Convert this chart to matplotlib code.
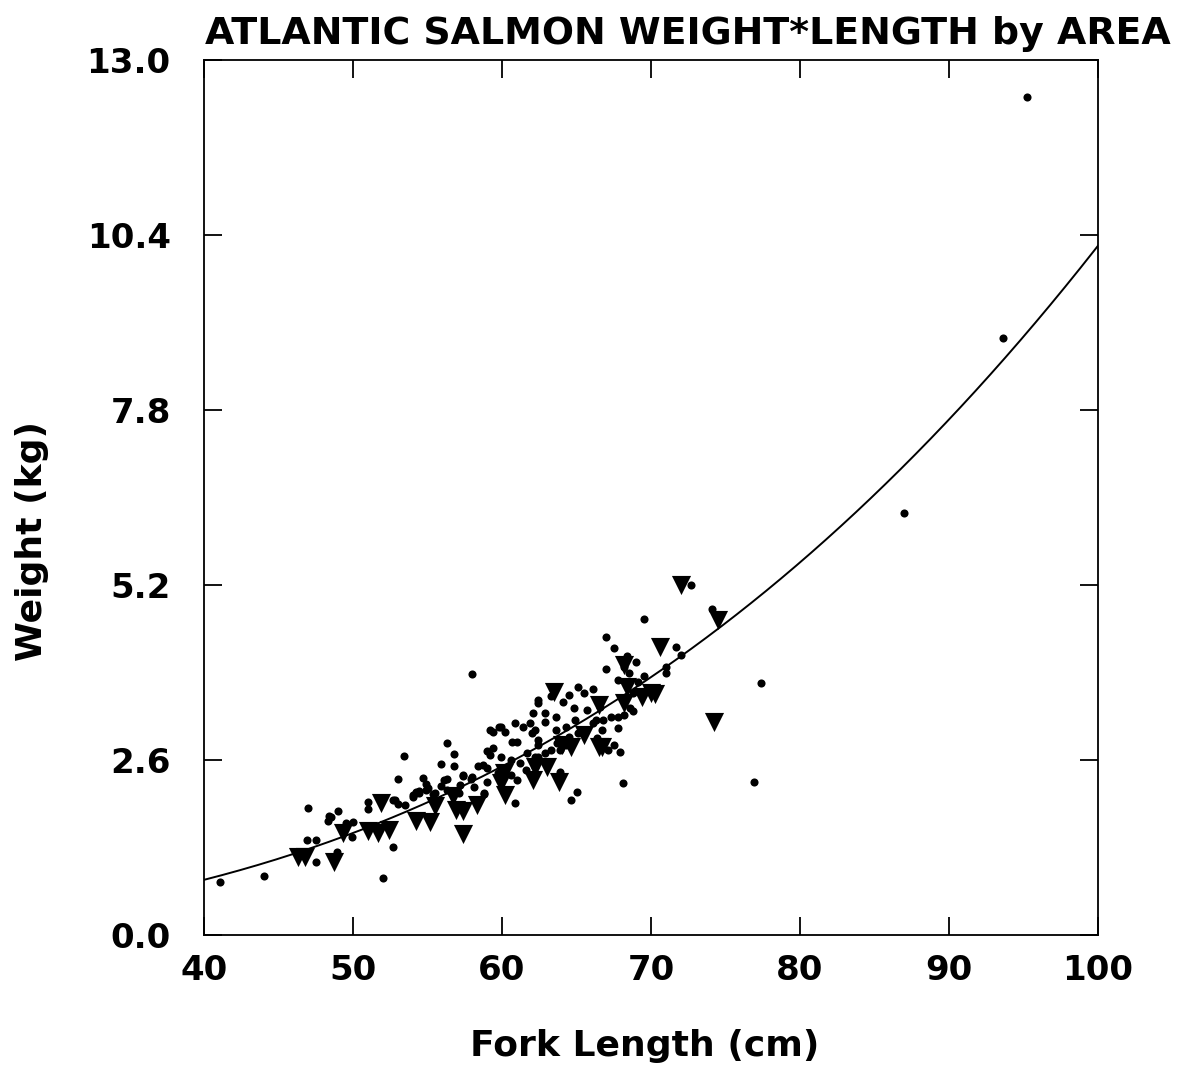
import matplotlib
matplotlib.use("Agg")
import matplotlib.pyplot as plt
import numpy as np

# ---- data ----
dot_len = [41.1, 44.0, 52.0, 46.9, 47.5, 47.5, 48.9, 48.3, 48.5, 49.0, 47.0, 51.0, 51.0, 49.5, 50.0,
           49.4, 49.9, 52.7, 53.0, 53.4, 52.7, 53.0, 54.7, 54.9, 55.0, 54.4, 54.0, 55.4, 55.9, 56.3,
           56.8, 56.8, 56.3, 55.9, 57.4, 57.9, 58.4, 58.8, 59.0, 59.4, 59.8, 58.0,
           48.4, 49.3, 52.8, 53.5, 51.7, 52.5, 54.2, 54.4,
           54.2, 54.0, 54.9, 55.5, 56.1, 56.3, 57.2, 57.4, 58.0, 58.1, 57.1, 58.7, 59.0, 58.8, 59.2,
           59.9, 60.7, 61.0, 60.9, 61.4, 61.9, 62.0, 60.2, 59.4, 59.2, 59.9, 60.6, 61.2, 61.7, 62.2,
           59.0, 59.7, 60.6, 61.0, 61.6, 62.2, 60.9, 62.4, 62.4, 62.1,
           67.0, 67.5, 68.4, 69.0, 67.0, 69.5, 69.5, 74.1, 71.7, 72.0, 71.0, 71.0, 72.7, 77.4, 76.9,
           68.1, 65.1, 66.1, 65.5, 64.5, 64.1, 63.3, 62.4, 62.9, 63.6, 64.8, 65.7, 66.6, 67.8, 68.6,
           67.8, 66.3, 67.3, 64.9, 64.3, 62.9, 62.2, 63.6, 64.1, 65.1, 66.4, 67.1, 67.5, 67.9, 62.4,
           62.9, 62.4, 63.3, 63.9, 64.3, 63.7, 64.5, 63.9, 64.6, 65.0, 68.8, 68.8, 69.1, 68.2, 68.5,
           67.8, 66.8, 66.7, 68.2, 66.1,
           87.0, 93.6, 95.2]
dot_wt = [0.78, 0.87, 0.84, 1.41, 1.41, 1.08, 1.23, 1.69, 1.75, 1.84, 1.89, 1.98, 1.87, 1.66, 1.68,
          1.56, 1.46, 1.31, 2.32, 2.66, 2.01, 1.95, 2.33, 2.24, 2.18, 2.11, 2.08, 2.10, 2.54, 2.85,
          2.69, 2.51, 2.32, 2.21, 2.36, 2.32, 2.51, 2.10, 2.73, 3.02, 3.09, 3.88,
          1.77, 1.59, 2.01, 1.93, 1.60, 1.63, 2.11, 2.14,
          2.12, 2.05, 2.15, 2.11, 2.30, 2.15, 2.23, 2.38, 2.35, 2.20, 2.11, 2.53, 2.27, 2.11, 3.05,
          3.09, 2.87, 2.87, 3.15, 3.09, 3.15, 3.00, 3.02, 2.78, 2.67, 2.64, 2.60, 2.56, 2.70, 2.64,
          2.48, 2.41, 2.38, 2.30, 2.45, 2.50, 1.96, 2.82, 3.45, 3.30,
          4.43, 4.26, 4.15, 4.06, 3.95, 3.85, 4.70, 4.84, 4.28, 4.16, 3.98, 3.89, 5.20, 3.74, 2.27,
          2.26, 3.69, 3.66, 3.60, 3.57, 3.46, 3.55, 3.49, 3.30, 3.24, 3.37, 3.34, 3.39, 3.08, 3.37,
          3.24, 3.19, 3.24, 3.19, 3.09, 3.16, 3.05, 3.05, 2.90, 3.00, 2.93, 2.75, 2.82, 2.72, 2.90,
          2.70, 2.64, 2.75, 2.75, 2.82, 2.85, 2.94, 2.42, 2.00, 2.12, 3.33, 3.60, 3.76, 3.98, 3.89,
          3.79, 3.19, 3.05, 3.27, 3.15,
          6.27, 8.87, 12.45]

tri_len = [46.3, 46.8, 48.7, 49.3, 51.0, 51.7, 51.9, 52.4, 54.2, 55.2, 55.5, 56.7, 56.9, 57.4,
           57.4, 58.3, 59.9, 60.1, 60.2, 62.1, 62.2, 63.0, 63.5, 63.8, 64.0, 64.6, 65.5, 66.5,
           66.7, 66.5, 68.2, 68.2, 68.4, 69.4, 70.0, 70.3, 70.6, 72.0, 74.5, 74.2]
tri_wt = [1.16, 1.16, 1.08, 1.52, 1.54, 1.52, 1.96, 1.56, 1.70, 1.68, 1.92, 2.06, 1.85, 1.84,
          1.50, 1.93, 2.26, 2.41, 2.08, 2.30, 2.50, 2.50, 3.61, 2.27, 2.82, 2.80, 2.97, 2.79,
          2.79, 3.42, 4.01, 3.45, 3.68, 3.54, 3.60, 3.58, 4.28, 5.20, 4.68, 3.16]

# fitted length-weight curve  W = a * L^b
fit_a = 3.136e-5
fit_b = 2.757
fit_range = (40, 100)

x_ticks = [40, 50, 60, 70, 80, 90, 100]
y_ticks = [0.0, 2.6, 5.2, 7.8, 10.4, 13.0]

title = "ATLANTIC SALMON WEIGHT*LENGTH by AREA"
xlabel = "Fork Length (cm)"
ylabel = "Weight (kg)"

# ---- plotting ----
plt.rcParams['font.family'] = ['DejaVu Sans']
fig = plt.figure(figsize=(11.84, 10.78), dpi=100)
ax = fig.add_axes([0.1723, 0.1327, 0.7551, 0.8116])

ax.scatter(dot_len, dot_wt, s=34, c='black', marker='o', linewidths=0, zorder=3)
ax.scatter(tri_len, tri_wt, s=190, c='black', marker='v', linewidths=0, zorder=3)

xc = np.linspace(fit_range[0], fit_range[1], 300)
ax.plot(xc, fit_a * xc ** fit_b, color='black', lw=1.4, zorder=2)

ax.set_xlim(40, 100)
ax.set_ylim(0, 13.0)
ax.set_xticks(x_ticks)
ax.set_yticks(y_ticks)
ax.set_xticklabels([str(t) for t in x_ticks])
ax.set_yticklabels([f"{t:.1f}" for t in y_ticks])
ax.tick_params(direction='in', length=13, width=1.3, top=True, right=True,
               labelsize=24.5)
for lab in ax.get_xticklabels() + ax.get_yticklabels():
    lab.set_fontweight('bold')
ax.tick_params(axis='x', pad=14)
ax.tick_params(axis='y', pad=24)
for sp in ax.spines.values():
    sp.set_linewidth(1.3)

ax.set_xlabel(xlabel, fontsize=26, fontweight='bold')
ax.set_ylabel(ylabel, fontsize=26, fontweight='bold')
ax.xaxis.set_label_coords(0.493, -0.107)
ax.yaxis.set_label_coords(-0.173, 0.45)
fig.text(0.173, 0.968, title, fontsize=27.3, fontweight='bold', ha='left', va='center')

fig.savefig("out.png", dpi=100)
